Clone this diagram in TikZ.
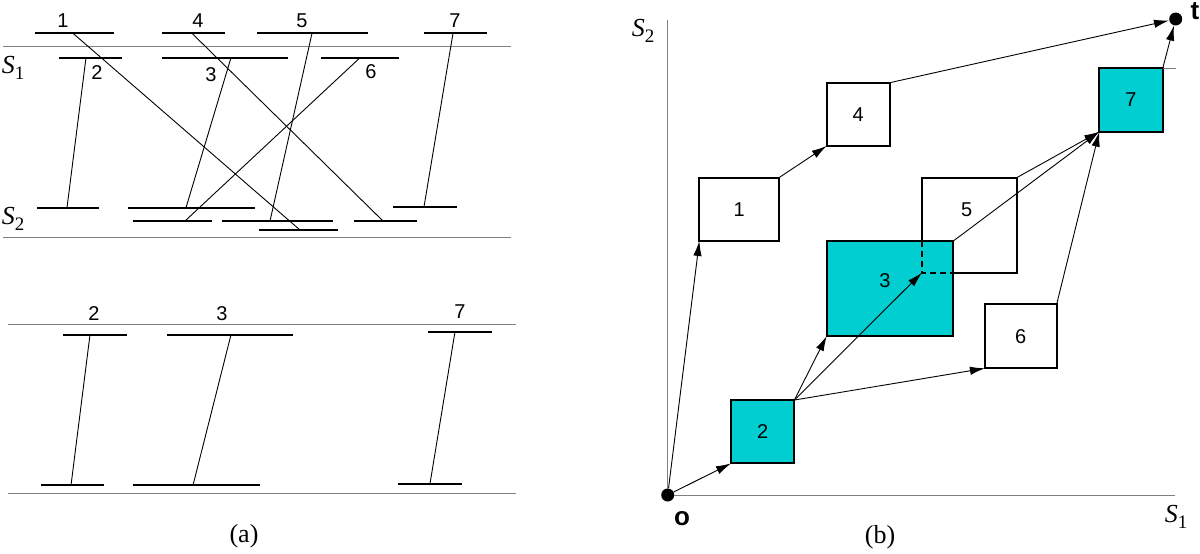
\documentclass[tikz,border=0pt]{standalone}
\usepackage{fontspec}
\setmainfont{Liberation Serif}
\setsansfont{Liberation Sans}
\usetikzlibrary{arrows.meta}
\definecolor{boxcyan}{RGB}{0,206,209}
\newcommand{\sub}[2]{\textit{#1}\raisebox{-0.55ex}{\fontsize{9.5}{10}\selectfont #2}}
\tikzset{
	bar/.style={line width=1pt},
	link/.style={line width=0.45pt},
	rule/.style={line width=0.5pt,color=gray},
	num/.style={font=\sffamily\fontsize{10}{12}\selectfont},
	captxt/.style={font=\fontsize{13}{15}\selectfont},
	job/.style={draw,line width=0.9pt,inner sep=0pt,outer sep=0pt,num},
	crit/.style={job,fill=boxcyan},
	dot/.style={circle,fill,inner sep=0pt,minimum size=6.5pt},
	arr/.style={->,line width=0.45pt},
	endlab/.style={font=\sffamily\bfseries\fontsize{13}{15}\selectfont}
}
\begin{document}
\begin{tikzpicture}[x=0.5pt,y=-0.5pt,>={Latex[length=7.5pt,width=4.2pt]}]
	\useasboundingbox (0,0) rectangle (1200,553);
	
	% (a) upper: all jobs
	\draw[rule] (3,46.7) -- (511,46.7);
	\draw[rule] (3,237.7) -- (511,237.7);
	\node[captxt] (s1a) at (13,68) {\sub{S}{1}};
	\node[captxt] (s2a) at (13,219) {\sub{S}{2}};
	
	\draw[bar] (35,33.3) -- (114,33.3);  % 1
	\draw[bar] (162,33.3) -- (225,33.3); % 4
	\draw[bar] (257,33.3) -- (368,33.3); % 5
	\draw[bar] (424,33.3) -- (487,33.3); % 7
	\draw[bar] (59,57.7) -- (122,57.7);  % 2
	\draw[bar] (162,57.7) -- (288,57.7); % 3
	\draw[bar] (321,57.7) -- (399,57.7); % 6
	
	\draw[bar] (37,207.7) -- (99,207.7);
	\draw[bar] (128,207.7) -- (255,207.7);
	\draw[bar] (393,206.7) -- (457,206.7);
	\draw[bar] (133,221) -- (212,221);
	\draw[bar] (222,221) -- (333,221);
	\draw[bar] (354,221) -- (417,221);
	\draw[bar] (259,230) -- (338,230);
	
	\draw[link] (73,33.3) -- (300,230);
	\draw[link] (192,33.3) -- (383,221);
	\draw[link] (312,33.3) -- (270,221);
	\draw[link] (453,33.3) -- (424,206.7);
	\draw[link] (86,57.7) -- (67,207.7);
	\draw[link] (231,57.7) -- (186,207.7);
	\draw[link] (360,57.7) -- (185,221);
	
	\node[num] (a1) at (63,21) {1};
	\node[num] (a4) at (198,21) {4};
	\node[num] (a5) at (302,21) {5};
	\node[num] (a7) at (455,21) {7};
	\node[num] (a2) at (97,73) {2};
	\node[num] (a3) at (211,75) {3};
	\node[num] (a6) at (371,72) {6};
	
	% (a) lower: critical jobs only
	\draw[rule] (8,324) -- (516,324);
	\draw[rule] (8,493.3) -- (516,493.3);
	\draw[bar] (63,334.7) -- (127,334.7);
	\draw[bar] (167,334.7) -- (293,334.7);
	\draw[bar] (428,331.7) -- (492,331.7);
	\draw[bar] (41,485.3) -- (104,485.3);
	\draw[bar] (133,485.3) -- (260,485.3);
	\draw[bar] (398,483.7) -- (462,483.7);
	\draw[link] (90,334.7) -- (71,485.3);
	\draw[link] (231,334.7) -- (193,485.3);
	\draw[link] (455,331.7) -- (430,483.7);
	\node[num] (c2) at (94,314) {2};
	\node[num] (c3) at (222,314) {3};
	\node[num] (c7) at (460,312) {7};
	\node[captxt] (capa) at (244,536) {(a)};
	
	% (b) obstacles in the plane
	\draw[rule] (667.7,20) -- (667.7,495) -- (1175,495);
	\node[captxt] (s2b) at (643,31) {\sub{S}{2}};
	\node[captxt] (s1b) at (1176,517) {\sub{S}{1}};
	
	\node[job,minimum width=39.85pt,minimum height=31.65pt] (b1) at (739.2,209.3) {1};
	\node[job,minimum width=31.65pt,minimum height=31.65pt] (b4) at (858.3,114.3) {4};
	\node[job,minimum width=47.35pt,minimum height=47.5pt] (b5) at (969.3,225.2) {};
	\node[crit,minimum width=63.3pt,minimum height=47.5pt] (b3) at (890,288.5) {};
	\node[crit,minimum width=31.65pt,minimum height=31.65pt] (b2) at (762.7,431.7) {2};
	\node[job,minimum width=35.85pt,minimum height=32pt] (b6) at (1020.8,336.3) {6};
	\node[crit,minimum width=31.7pt,minimum height=31.7pt] (b7) at (1131,100) {7};
	\node[num] (l5) at (966.7,210) {5};
	\node[num] (l3) at (885,281) {3};
	\draw[dashed,line width=0.9pt,dash pattern=on 3pt off 2pt] (b3.north -| b5.west) -- (b5.south west) -- (b5.south -| b3.east);
	\draw[rule] (b7.north east) -- ++(13,0);
	
	\node[dot] (o) at (667.7,495) {};
	\node[dot] (t) at (1175.7,19) {};
	\node[endlab] (olab) at (682,519) {o};
	\node[endlab] (tlab) at (1195,11) {t};
	
	\draw[arr] (o) -- (b1.south west);
	\draw[arr] (o) -- (b2.south west);
	\draw[arr] (b1.north east) -- (b4.south west);
	\draw[arr] (b2.north east) -- (b3.south west);
	\draw[arr] (b2.north east) -- (b5.south west);
	\draw[arr] (b2.north east) -- (b6.south west);
	\draw[arr] (b5.north east) -- (b7.south west);
	\draw[arr] (b3.north east) -- (b7.south west);
	\draw[arr] (b6.north east) -- (b7.south west);
	\draw[arr] (b4.north east) -- (t);
	\draw[arr] (b7.north east) -- (t);
	\node[captxt] (capb) at (880,537) {(b)};
\end{tikzpicture}
\end{document}
